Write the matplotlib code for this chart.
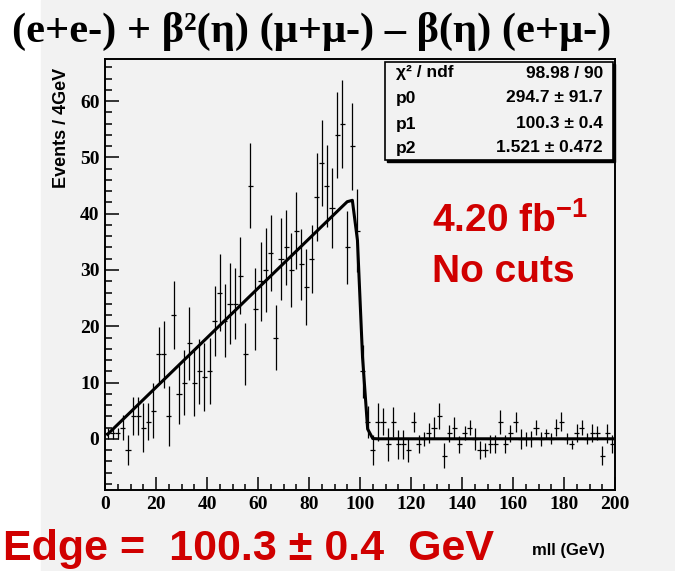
import math
import numpy as np
import matplotlib
matplotlib.use("Agg")
import matplotlib.pyplot as plt
from matplotlib.patches import Rectangle
from matplotlib.ticker import MultipleLocator

# histogram: 100 bins of 2 GeV from 0 to 200
bin_lo = 0
bin_hi = 200
counts = [1, 1, 1, 2, -2, 4, 4, 2, 3, 5,
          15, 15, 4, 22, 8, 10, 17, 10, 12, 11,
          12, 21, 26, 21, 24, 24, 29, 15, 45, 23,
          28, 30, 33, 18, 32, 34, 30, 37, 31, 27,
          32, 43, 49, 45, 41, 54, 56, 34, 52, 37,
          12, 3, -2, 3, 3, -1, 3, -1, -1, -2,
          3, -1, 0, 1, 2, 4, -3, 1, 2, -1,
          1, 2, 0, -2, -2, -1, -1, 3, -1, 1,
          3, 0, 0, 0, 2, 0, 1, 0, 2, 3,
          0, -1, 1, 2, 0, 1, 1, -3, 1, -1]
errors = [1.0, 1.0, 1.0, 2.3, 2.7, 3.4, 3.4, 4.3, 3.3, 4.9,
          4.9, 6.0, 5.3, 6.1, 5.4, 5.8, 6.5, 5.9, 5.8, 6.1,
          5.9, 6.2, 6.8, 6.5, 7.2, 6.3, 6.8, 5.5, 7.5, 7.3,
          7.0, 7.4, 6.8, 5.8, 7.3, 6.7, 6.6, 6.9, 6.3, 6.8,
          6.0, 7.8, 7.7, 7.3, 7.1, 7.7, 7.8, 6.4, 7.7, 7.4,
          4.7, 2.8, 2.7, 3.4, 2.4, 2.9, 2.7, 2.6, 2.6, 2.2,
          1.8, 1.6, 1.2, 1.8, 1.9, 2.3, 2.2, 1.5, 1.9, 1.5,
          1.2, 1.3, 2.0, 1.6, 1.3, 1.6, 1.6, 2.2, 1.6, 1.5,
          1.8, 1.8, 1.2, 1.4, 1.4, 1.2, 0.8, 1.0, 1.5, 1.7,
          1.0, 0.8, 1.6, 1.4, 1.0, 1.6, 1.2, 1.7, 1.7, 1.6]

# fit: linear rise smeared by gaussian at the edge
slope = 0.44
offset = 0.35
edge = 100.3
sigma = 1.521

stats_labels = ["\u03c7\u00b2 / ndf", "p0", "p1", "p2"]
stats_values = ["98.98 / 90", "294.7 \u00b1 91.7", "100.3 \u00b1 0.4", "1.521 \u00b1 0.472"]

W, H = 675, 571
BG = "#f2f2f2"
RED = "#d00000"

def fx(px):
    return px / W

def fy(py):
    return 1 - py / H

plt.rcParams["mathtext.fontset"] = "custom"
plt.rcParams["mathtext.rm"] = "Liberation Sans:bold"
plt.rcParams["mathtext.bf"] = "Liberation Sans:bold"

fig = plt.figure(figsize=(W / 100, H / 100), dpi=100, facecolor="white")
fig.patches.append(Rectangle((fx(41), 0), 1, 1, transform=fig.transFigure,
                             color=BG, zorder=-10))

ax = fig.add_axes([fx(105), fy(490), fx(615) - fx(105), fy(59) - fy(490)])
ax.set_facecolor(BG)

nbins = len(counts)
width = (bin_hi - bin_lo) / nbins
centers = bin_lo + width * (np.arange(nbins) + 0.5)
ax.errorbar(centers, counts, yerr=errors, xerr=width / 2, fmt="none",
            ecolor="black", elinewidth=0.9, capsize=0)

xs = np.arange(bin_lo + 1, bin_hi, 2)
fit = [(slope * x + offset) * 0.5 * math.erfc((x - edge) / (math.sqrt(2) * sigma)) for x in xs]
ax.plot(xs, fit, color="black", lw=2.2, solid_joinstyle="round")

ax.set_xlim(bin_lo, bin_hi)
ax.set_ylim(-9.1, 67.5)
ax.xaxis.set_major_locator(MultipleLocator(20))
ax.xaxis.set_minor_locator(MultipleLocator(5))
ax.yaxis.set_major_locator(MultipleLocator(10))
ax.yaxis.set_minor_locator(MultipleLocator(2))
ax.tick_params(which="both", direction="in", top=False, right=False, width=1.1)
ax.tick_params(axis="x", which="major", length=9.5, pad=4)
ax.tick_params(axis="x", which="minor", length=4.5)
ax.tick_params(axis="y", which="major", length=10, pad=4)
ax.tick_params(axis="y", which="minor", length=5)
for lab in ax.get_xticklabels() + ax.get_yticklabels():
    lab.set_fontfamily("Liberation Serif")
    lab.set_fontweight("bold")
    lab.set_fontsize(14)
for sp in ax.spines.values():
    sp.set_linewidth(1.4)

# title and axis labels
fig.text(fx(312), fy(31), "(e+e-) + \u03b2\u00b2(\u03b7) (\u03bc+\u03bc-) \u2013 \u03b2(\u03b7) (e+\u03bc-)",
         ha="center", va="center", family="Liberation Serif", weight="bold", fontsize=30.5)
fig.text(fx(62), fy(128), "Events / 4GeV", rotation=90, ha="center", va="center",
         family="Liberation Sans", weight="bold", fontsize=13)
fig.text(fx(568), fy(550), "mll (GeV)", ha="center", va="center",
         family="Liberation Sans", weight="bold", fontsize=12)

# stats box with shadow
fig.patches.append(Rectangle((fx(387), fy(162)), fx(615) - fx(387), fy(64) - fy(162),
                             transform=fig.transFigure, color="black", zorder=5))
fig.patches.append(Rectangle((fx(385), fy(160)), fx(613) - fx(385), fy(62) - fy(160),
                             transform=fig.transFigure, facecolor=BG, edgecolor="black",
                             lw=1.2, zorder=6))
rows = [73, 98, 124, 148]
for lab, val, py in zip(stats_labels, stats_values, rows):
    fig.text(fx(396), fy(py), lab, ha="left", va="center", family="Liberation Sans",
             weight="bold", fontsize=12.5, zorder=7)
    fig.text(fx(603), fy(py), val, ha="right", va="center", family="Liberation Sans",
             weight="bold", fontsize=12.5, zorder=7)

# red annotations
fig.text(fx(432), fy(232), r"4.20 fb$^{-1}$", ha="left", va="baseline", color=RED,
         family="Liberation Sans", weight="bold", fontsize=28)
fig.text(fx(432), fy(282), "No cuts", ha="left", va="baseline", color=RED,
         family="Liberation Sans", weight="bold", fontsize=28)
fig.text(fx(3), fy(560), "Edge =  100.3 \u00b1 0.4  GeV", ha="left", va="baseline", color=RED,
         family="Liberation Sans", weight="bold", fontsize=31)

fig.savefig("out.png", dpi=100, facecolor="white")
